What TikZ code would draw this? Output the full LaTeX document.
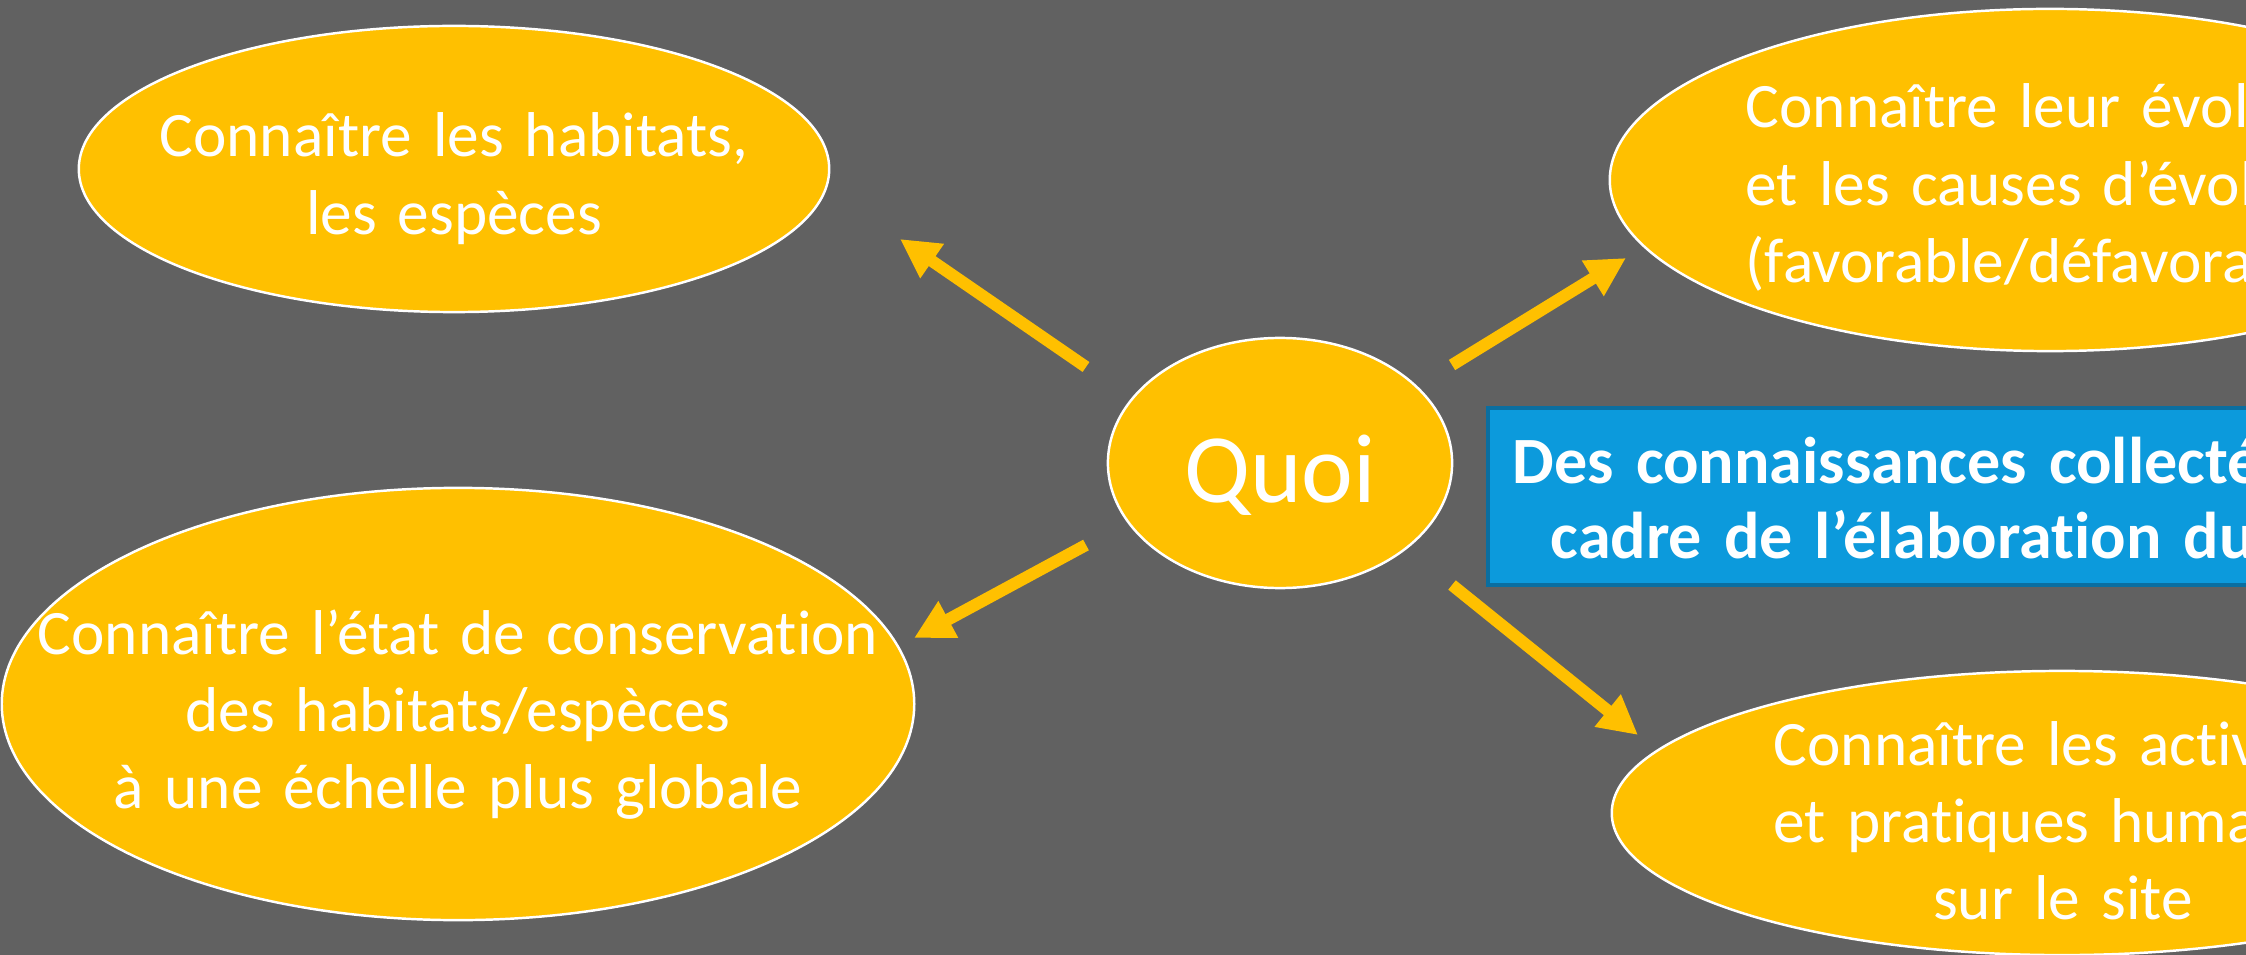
\documentclass[tikz,border=0pt]{standalone}
\usepackage{fontspec}
\setmainfont{Carlito}[Ligatures=NoCommon,WordSpace=0.8]
\usetikzlibrary{arrows.meta,shapes.geometric}

\definecolor{slidegrey}{RGB}{97,97,97}
\definecolor{gold}{RGB}{255,192,0}
\definecolor{boxblue}{RGB}{12,154,220}
\definecolor{boxline}{RGB}{10,110,160}

\begin{document}
\begin{tikzpicture}[x=0.01cm, y=-0.01cm,
		node_style/.style={ellipse,draw=white,line width=0.7pt,fill=gold,inner sep=0pt},
		text_style/.style={text=white,inner sep=0pt,font=\fontsize{18}{21.9}\selectfont},
		box_style/.style={rectangle,draw=boxline,line width=0.04cm,fill=boxblue,inner sep=0pt},
		edge_style/.style={color=gold,line width=0.12cm,-{Triangle[length=0.39cm,width=0.39cm]}}]

		\useasboundingbox (0,0) rectangle (2246,955);
		\fill[slidegrey] (0,0) rectangle (2246,955);
		\clip (0,0) rectangle (2246,955);

		\node[node_style,minimum width=7.5cm,minimum height=2.86cm] (n1) at (454,169) {};
		\node[node_style,minimum width=8.8cm,minimum height=3.42cm] (n2) at (2050,180) {};
		\node[node_style,minimum width=3.44cm,minimum height=2.5cm] (n0) at (1280,463) {};
		\node[node_style,minimum width=9.12cm,minimum height=4.32cm] (n3) at (458,704) {};
		\node[node_style,minimum width=9cm,minimum height=2.84cm] (n4) at (2062,813) {};
		\node[box_style,anchor=north west,minimum width=9cm,minimum height=1.77cm] (n5) at (1486,406) {};

		\node[text_style,text width=8cm,align=center,anchor=base] (t1) at (454,157) {Connaître les habitats,\\les espèces};
		\node[text_style,text width=8cm,align=left,anchor=base west] (t2) at (1745,128) {Connaître leur évol\\et les causes d’évol\\(favorable/défavora};
		\node[text=white,inner sep=0pt,font=\fontsize{27.9}{33}\selectfont,anchor=base] (t0) at (1280,502) {Quoi};
		\node[text_style,text width=10cm,align=center,anchor=base] (t3) at (458,654) {Connaître l’état de conservation\\des habitats/espèces\\à une échelle plus globale};
		\node[text_style,text width=8cm,align=left,anchor=base west] (t4) at (1773,765) {Connaître les activ\\et pratiques huma\\\makebox[5.78cm]{sur le site}};
		\node[text_style,font=\bfseries\fontsize{18.8}{21.6}\selectfont,text width=12cm,align=left,anchor=base west] (t5) at (1512,483) {Des connaissances collecté\\\hspace*{0.38cm}cadre de l’élaboration du};

		\coordinate (p1) at (1086,367);
		\coordinate (p2) at (900,239);
		\coordinate (p3) at (1452,365);
		\coordinate (p4) at (1626,258);
		\coordinate (p5) at (1086,545);
		\coordinate (p6) at (914,638);
		\coordinate (p7) at (1452,585);
		\coordinate (p8) at (1638,735);

		\draw[edge_style] (p1) -- (p2);
		\draw[edge_style] (p3) -- (p4);
		\draw[edge_style] (p5) -- (p6);
		\draw[edge_style] (p7) -- (p8);

\end{tikzpicture}
\end{document}
